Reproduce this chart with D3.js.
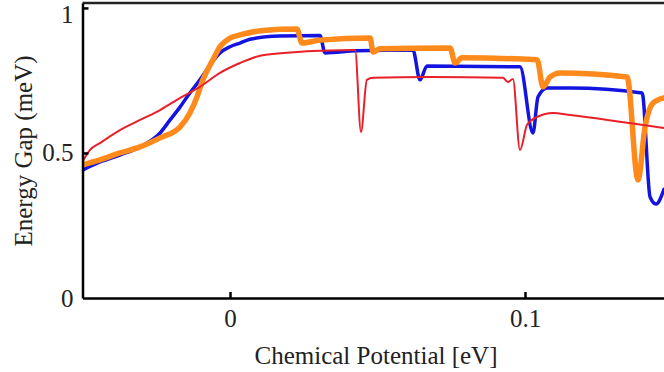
<!DOCTYPE html>
<html>
<head>
<meta charset="utf-8">
<script src="https://cdn.jsdelivr.net/npm/d3@7"></script>
<style>
  body { margin: 0; background: #fff; }
  svg { display: block; }
</style>
</head>
<body>
<script>
// Energy gap vs chemical potential, three curves

// chemical potential [eV] and gap [meV] for each curve
var redMu = [-0.050, -0.0475, -0.0441, -0.0373, -0.0305, -0.0237, -0.0169, -0.0102, -0.0034, 0.0034, 0.0102,
             0.0227, 0.0305, 0.0424, 0.0444, 0.0464, 0.0485, 0.0678, 0.0925, 0.0942, 0.0959, 0.0983,
             0.1007, 0.1041, 0.1095, 0.1153, 0.1471];
var redGap = [0.470, 0.510, 0.534, 0.579, 0.614, 0.648, 0.690, 0.728, 0.776, 0.810, 0.835,
              0.848, 0.852, 0.855, 0.572, 0.752, 0.759, 0.762, 0.759, 0.745, 0.755, 0.510,
              0.597, 0.624, 0.638, 0.631, 0.586];

var blueMu = [-0.050, -0.0441, -0.0373, -0.0305, -0.0237, -0.0203, -0.0169, -0.0136, -0.0102, -0.0068, -0.0034,
              0.0, 0.0034, 0.0068, 0.0169, 0.0305, 0.0322, 0.0430, 0.0620, 0.0644, 0.0668, 0.0983,
              0.1027, 0.1044, 0.1075, 0.1153, 0.1397, 0.1424, 0.1444, 0.1471];
var blueGap = [0.441, 0.469, 0.493, 0.521, 0.569, 0.614, 0.659, 0.707, 0.752, 0.803, 0.845,
               0.866, 0.879, 0.892, 0.903, 0.905, 0.845, 0.852, 0.855, 0.752, 0.800, 0.797,
               0.569, 0.693, 0.724, 0.724, 0.707, 0.348, 0.324, 0.375];

var orangeMu = [-0.050, -0.0441, -0.0373, -0.0305, -0.0237, -0.0169, -0.0136, -0.0112, -0.0092, -0.0058, -0.0034,
                0.0, 0.0034, 0.0112, 0.0227, 0.0244, 0.0305, 0.0475, 0.0485, 0.0508, 0.0746, 0.0763,
                0.0786, 0.1041, 0.1061, 0.1085, 0.1119, 0.1346, 0.1383, 0.1407, 0.1434, 0.1471];
var orangeGap = [0.459, 0.476, 0.500, 0.521, 0.552, 0.590, 0.638, 0.693, 0.752, 0.821, 0.866,
                 0.896, 0.907, 0.922, 0.927, 0.879, 0.889, 0.896, 0.848, 0.859, 0.862, 0.810,
                 0.828, 0.821, 0.728, 0.762, 0.776, 0.762, 0.407, 0.590, 0.672, 0.690];

var xTicks = [0, 0.1];
var xTickLabels = ["0", "0.1"];
var yTicks = [0, 0.5, 1];
var yTickLabels = ["0", "0.5", "1"];

/* Defines size
The plot runs off the right edge of the picture, so the x range goes past 664 */
var width = 664,
    height = 372;

var svg = d3.select("body")
    .append("svg")
    .attr("width", width)
    .attr("height", height);

var x = d3.scaleLinear()
    .domain([-0.05, 0.15])
    .range([82.5, 672.5]);

var y = d3.scaleLinear()
    .domain([0, 1.017])
    .range([298, 3]);

// clip the curves to the frame
svg.append("clipPath")
    .attr("id", "plotClip")
    .append("rect")
    .attr("x", x(-0.05))
    .attr("y", y(1.017))
    .attr("width", width - x(-0.05))
    .attr("height", y(0) - y(1.017));

// monotone keeps the steps sharp-ish but smooths the rising part
var line = d3.line()
    .x(function(d) { return x(d[0]); })
    .y(function(d) { return y(d[1]); })
    .curve(d3.curveMonotoneX);

function pairs(mu, gap) {
    return mu.map(function(m, i) { return [m, gap[i]]; });
}

// blue under orange, red on top
var series = [
    { data: pairs(blueMu, blueGap), color: "#1414e0", w: 3.5 },
    { data: pairs(orangeMu, orangeGap), color: "#ff8a1c", w: 5.5 },
    { data: pairs(redMu, redGap), color: "#ea2028", w: 2 }
];

var plot = svg.append("g")
    .attr("clip-path", "url(#plotClip)");

plot.selectAll("path")
    .data(series)
    .enter().append("path")
        .attr("fill", "none")
        .attr("stroke", function(d) { return d.color; })
        .attr("stroke-width", function(d) { return d.w; })
        .attr("stroke-linejoin", "round")
        .attr("stroke-linecap", "round")
        .attr("d", function(d) { return line(d.data); });

// frame: top line
svg.append("line")
    .attr("x1", x(-0.05)).attr("x2", width)
    .attr("y1", y(1.017)).attr("y2", y(1.017))
    .attr("stroke", "#222")
    .attr("stroke-width", 2.5);

// Axes with inward ticks
var xAxis = svg.append("g")
    .attr("transform", "translate(0," + y(0) + ")")
    .call(d3.axisBottom(x)
        .tickValues(xTicks)
        .tickFormat(function(d, i) { return xTickLabels[i]; })
        .tickSizeInner(-6)
        .tickSizeOuter(0)
        .tickPadding(11));

var yAxis = svg.append("g")
    .attr("transform", "translate(" + x(-0.05) + ",0)")
    .call(d3.axisLeft(y)
        .tickValues(yTicks)
        .tickFormat(function(d, i) { return yTickLabels[i]; })
        .tickSizeInner(-6)
        .tickSizeOuter(0)
        .tickPadding(9));

[xAxis, yAxis].forEach(function(ax) {
    ax.select(".domain")
        .attr("stroke", "#000")
        .attr("stroke-width", 2.5);
    ax.selectAll(".tick line")
        .attr("stroke", "#000")
        .attr("stroke-width", 2.5);
    ax.selectAll(".tick text")
        .attr("fill", "#222")
        .attr("font-family", "'Liberation Serif', 'Times New Roman', serif")
        .attr("font-size", "25px");
});

// don't draw the tick at the corner
yAxis.selectAll(".tick line").filter(function(d) { return d === 0; }).remove();

// the "1" label sits at the very top, nudge it down so its box stays inside
yAxis.selectAll(".tick text").filter(function(d) { return d === 1; })
    .attr("dy", "0.58em");

// Axis titles
svg.append("text")
    .attr("x", 376)
    .attr("y", 364)
    .attr("text-anchor", "middle")
    .attr("font-family", "'Liberation Serif', 'Times New Roman', serif")
    .attr("font-size", "25px")
    .attr("fill", "#222")
    .text("Chemical Potential [eV]");

svg.append("text")
    .attr("transform", "translate(32,151) rotate(-90)")
    .attr("text-anchor", "middle")
    .attr("font-family", "'Liberation Serif', 'Times New Roman', serif")
    .attr("font-size", "25px")
    .attr("fill", "#222")
    .text("Energy Gap (meV)");
</script>
</body>
</html>
